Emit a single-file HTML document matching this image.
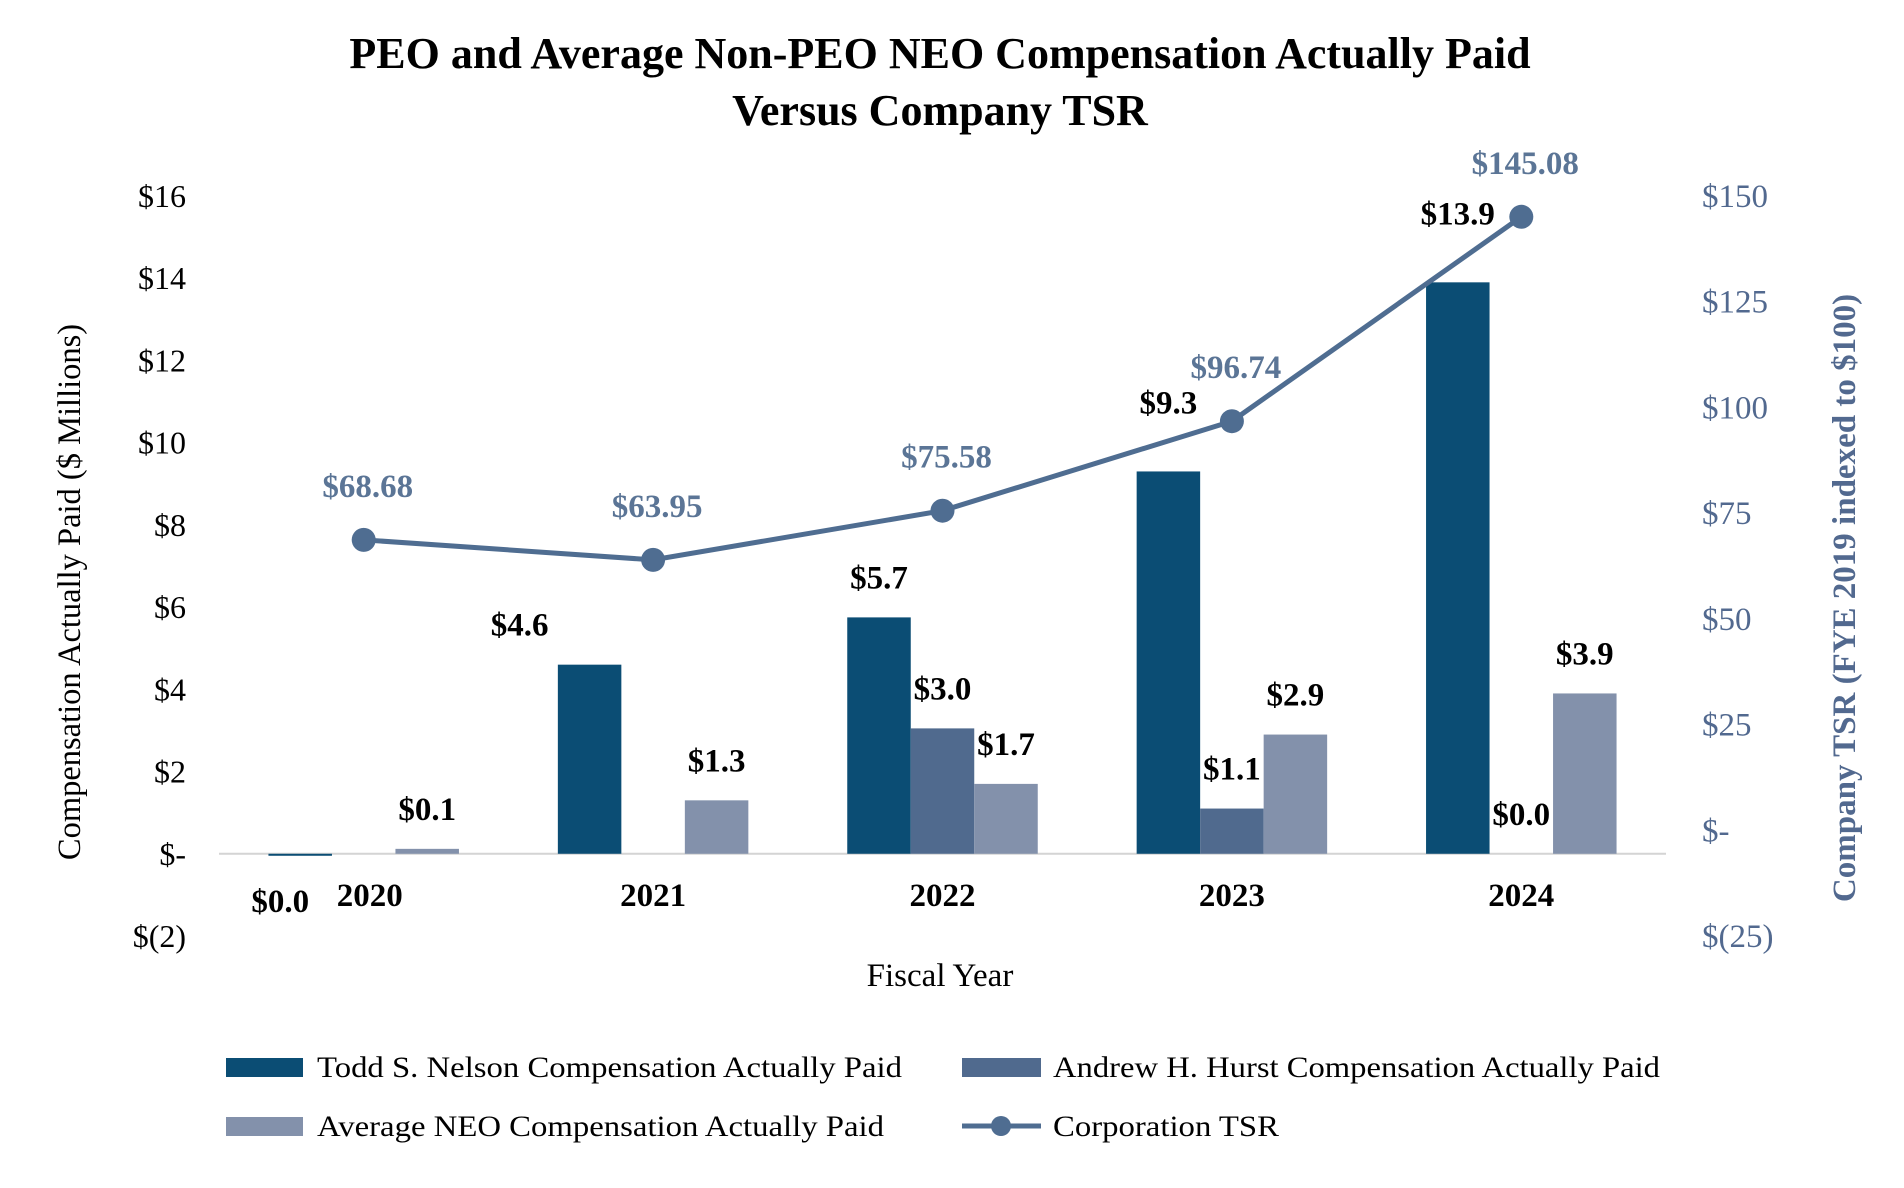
<!DOCTYPE html>
<html><head><meta charset="utf-8"><style>
html,body{margin:0;padding:0;background:#fff;}
svg{display:block;font-family:"Liberation Serif","Times New Roman",serif;}
</style></head><body>
<svg id="chart" width="1904" height="1188" viewBox="0 0 1904 1188">
<text x="940" y="68" text-anchor="middle" font-size="44" font-weight="bold">PEO and Average Non-PEO NEO Compensation Actually Paid</text>
<text x="940" y="125" text-anchor="middle" font-size="44" font-weight="bold">Versus Company TSR</text>
<text transform="translate(80,592) rotate(-90)" text-anchor="middle" font-size="32.5">Compensation Actually Paid ($ Millions)</text>
<text transform="translate(1855,598) rotate(-90)" text-anchor="middle" font-size="33" font-weight="bold" fill="#52698F">Company TSR (FYE 2019 indexed to $100)</text>
<text x="940" y="986" text-anchor="middle" font-size="33">Fiscal Year</text>
<g id="plot"></g>
<g id="legend">
<rect x="226" y="1058" width="77" height="19" fill="#0B4D74"/>
<text x="317" y="1077" font-size="30" textLength="585" lengthAdjust="spacingAndGlyphs">Todd S. Nelson Compensation Actually Paid</text>
<rect x="962" y="1058" width="79" height="19" fill="#506A8E"/>
<text x="1053" y="1077" font-size="30" textLength="607" lengthAdjust="spacingAndGlyphs">Andrew H. Hurst Compensation Actually Paid</text>
<rect x="226" y="1117" width="77" height="19" fill="#8391AB"/>
<text x="317" y="1136" font-size="30" textLength="567" lengthAdjust="spacingAndGlyphs">Average NEO Compensation Actually Paid</text>
<line x1="962" y1="1126" x2="1041" y2="1126" stroke="#4F6D91" stroke-width="5"/>
<circle cx="1001" cy="1126" r="10" fill="#4F6D91"/>
<text x="1053" y="1136" font-size="30" textLength="226" lengthAdjust="spacingAndGlyphs">Corporation TSR</text>
</g>
</svg>
<script>
const years = ["2020","2021","2022","2023","2024"];
const toddValues = [-0.04, 4.6, 5.75, 9.3, 13.9];
const toddLabels = ["$0.0","$4.6","$5.7","$9.3","$13.9"];
const andrewValues = [0, 0, 3.05, 1.1, 0];
const andrewLabels = ["", "", "$3.0", "$1.1", "$0.0"];
const avgValues = [0.12, 1.3, 1.7, 2.9, 3.9];
const avgLabels = ["$0.1","$1.3","$1.7","$2.9","$3.9"];
const tsrValues = [68.68, 63.95, 75.58, 96.74, 145.08];
const tsrLabels = ["$68.68","$63.95","$75.58","$96.74","$145.08"];
const leftTicks = [16,14,12,10,8,6,4,2,0,-2];
const leftTickLabels = ["$16","$14","$12","$10","$8","$6","$4","$2","$-","$(2)"];
const rightTicks = [150,125,100,75,50,25,0,-25];
const rightTickLabels = ["$150","$125","$100","$75","$50","$25","$-","$(25)"];

const NS = "http://www.w3.org/2000/svg";
const plot = document.getElementById("plot");
const X0 = 219, X1 = 1666, YTOP = 196, YBOT = 936;
const bandW = (X1 - X0) / years.length;
const barW = 63.5;
function yL(v){ return YBOT - (v - (-2)) / 18 * (YBOT - YTOP); }
function yR(v){ return YBOT - (v - (-25)) / 175 * (YBOT - YTOP); }
function xC(i){ return X0 + (i + 0.5) * bandW; }
function mk(tag, attrs){ const e = document.createElementNS(NS, tag); for (const k in attrs) e.setAttribute(k, attrs[k]); plot.appendChild(e); return e; }

leftTicks.forEach((t, i) => {
  const e = mk("text", {x: 186, y: yL(t) + 11, "text-anchor": "end", "font-size": 32});
  e.textContent = leftTickLabels[i];
  
  
});
rightTicks.forEach((t, i) => {
  const e = mk("text", {x: 1702, y: yR(t) + 11, "font-size": 33, fill: "#52698F"});
  e.textContent = rightTickLabels[i];
  
  
});

const base = mk("line", {x1: X0, x2: X1, y1: yL(0), y2: yL(0), stroke: "#d4d4d4", "stroke-width": 2});



const series = [
  {vals: toddValues, labels: toddLabels, color: "#0B4D74", name: "todd", off: -1},
  {vals: andrewValues, labels: andrewLabels, color: "#506A8E", name: "andrew", off: 0},
  {vals: avgValues, labels: avgLabels, color: "#8391AB", name: "average", off: 1}
];
series.forEach(s => {
  s.vals.forEach((v, i) => {
    const cx = xC(i) + s.off * barW;
    const y0 = yL(0), y1 = yL(v);
    const r = mk("rect", {x: cx - barW / 2, y: Math.min(y0, y1), width: barW, height: Math.max(Math.abs(y1 - y0), v !== 0 ? 2 : 0), fill: s.color});
    
    
    if (s.labels[i]) {
      let lx = cx, ly;
      if (v < 0) ly = y0 + 58;
      else ly = y1 - 29;
      if (s.name === "todd" && i === 1) lx = cx - 70;
      if (s.name === "todd" && (i === 3 || i === 4)) ly = y1 - 58;
      if (s.name === "todd" && i === 0) lx = cx - 20;
      const t = mk("text", {x: lx, y: ly, "text-anchor": "middle", "font-size": 33, "font-weight": "bold"});
      t.textContent = s.labels[i];
      
      
    }
  });
});

years.forEach((y, i) => {
  const t = mk("text", {x: xC(i) + (i === 0 ? 6 : 0), y: yL(0) + 52, "text-anchor": "middle", "font-size": 33, "font-weight": "bold"});
  t.textContent = y;
  
  
});

const pts = tsrValues.map((v, i) => [xC(i), yR(v)]);
const line = mk("polyline", {points: pts.map(p => p.join(",")).join(" "), fill: "none", stroke: "#4F6D91", "stroke-width": 5});


pts.forEach((p, i) => {
  const c = mk("circle", {cx: p[0], cy: p[1], r: 12, fill: "#4F6D91"});
  
  
  const t = mk("text", {x: p[0] + 4, y: p[1] - 43, "text-anchor": "middle", "font-size": 33, "font-weight": "bold", fill: "#5B7596"});
  t.textContent = tsrLabels[i];
  
  
});
</script>
</body></html>
